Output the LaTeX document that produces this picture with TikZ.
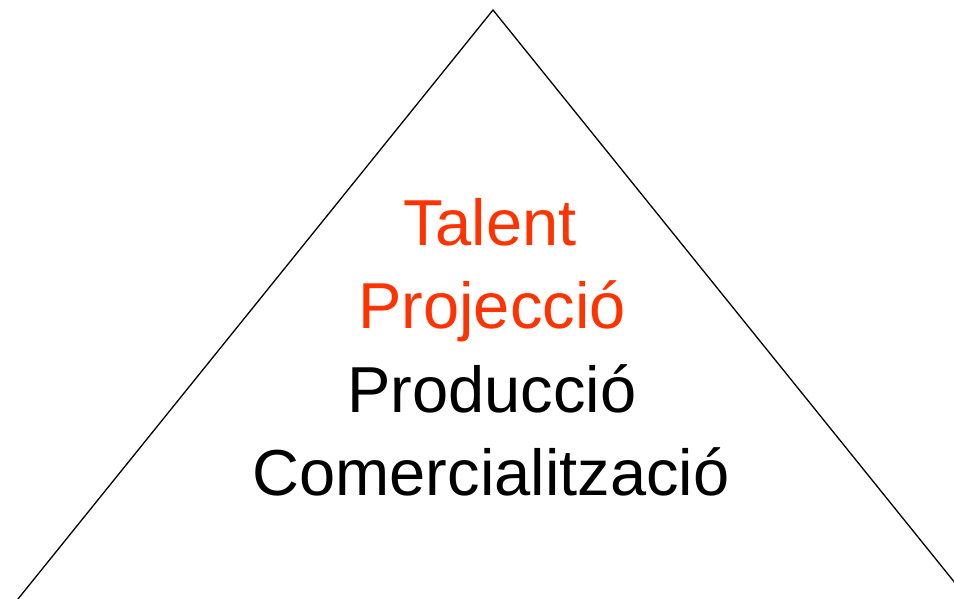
\documentclass[tikz,border=0pt]{standalone}
\usepackage{fontspec}
\setmainfont{Liberation Sans}
\usepackage{tikz}
\usetikzlibrary{calc}
\definecolor{orangered}{HTML}{FF3300}

\begin{document}
\begin{tikzpicture}[x=1pt,y=-1pt,
    word/.style={anchor=base,inner sep=0pt,font=\fontsize{65}{78}\selectfont}]
            \useasboundingbox (0,0) rectangle (954,599);
            \clip (0,0) rectangle (954,599);
            \coordinate (apex) at (493,10);
            \coordinate (left) at (-7,630);
            \coordinate (right) at (993,630);
            \draw[line width=1.3pt,line join=miter] (left) -- (apex) -- (right);
            \node[word,text=orangered] (talent) at (490,245) {Talent};
            \node[word,text=orangered] (projeccio) at (492,328) {Projecció};
            \node[word] (produccio) at (492,412) {Producció};
            \node[word] (comerc) at (491,495) {Comercialització};
        \end{tikzpicture}
\end{document}
